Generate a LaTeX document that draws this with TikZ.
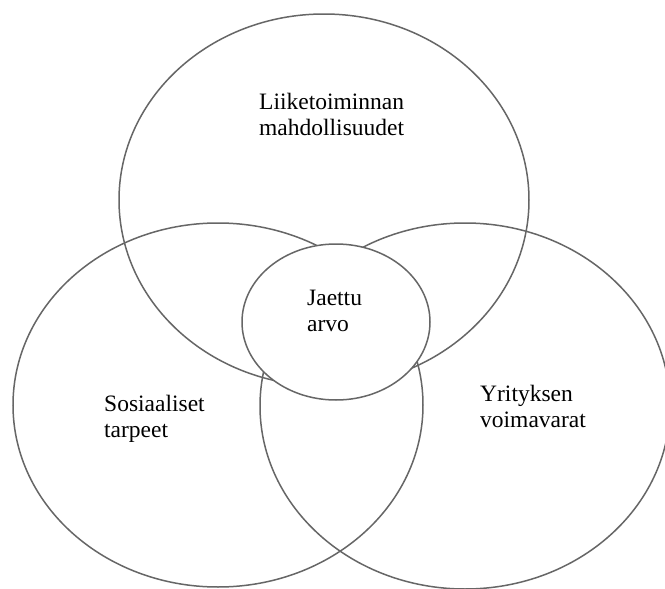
\documentclass[tikz,border=0pt]{standalone}
\usepackage{fontspec}
\setmainfont{Liberation Serif}
\usetikzlibrary{shapes.geometric}
\begin{document}
\begin{tikzpicture}[x=1pt,y=-1pt,
  ring/.style={ellipse,draw=black!60,line width=1.5pt,inner sep=0pt},
  lbl/.style={align=left,anchor=west,inner sep=0pt,font=\fontsize{23.5}{26}\selectfont,text=black}]
\useasboundingbox (0,0) rectangle (665,589);
\clip (0,0) rectangle (665,589);
\fill[white] (0,0) rectangle (665,589);
\node[ring,minimum width=410pt,minimum height=372pt] (top) at (324,200) {};
\node[ring,minimum width=410pt,minimum height=364pt] (left) at (218,405) {};
\node[ring,minimum width=410pt,minimum height=366pt] (right) at (465,406) {};
\node[ring,fill=white,minimum width=188pt,minimum height=156pt] (core) at (336,322) {};
\node[lbl] (ltop) at (259,114.5) {Liiketoiminnan\\mahdollisuudet};
\node[lbl] (lcore) at (307,311) {Jaettu\\arvo};
\node[lbl] (lleft) at (104,418.5) {Sosiaaliset\\tarpeet};
\node[lbl] (lright) at (480,406) {Yrityksen\\voimavarat};
\end{tikzpicture}
\end{document}
